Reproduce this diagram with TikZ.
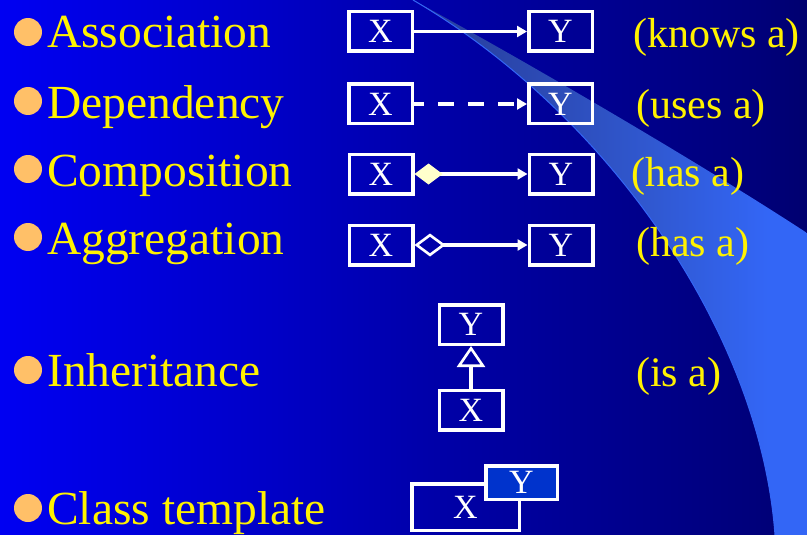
\documentclass[tikz,border=0pt]{standalone}
\usepackage{fontspec}
\setmainfont{Liberation Serif}
\usetikzlibrary{arrows.meta}

% palette
\definecolor{bulletc}{HTML}{FFC068}
\definecolor{diamondc}{HTML}{FFFFCC}
\definecolor{tplc}{HTML}{0033CC}
\definecolor{bg0}{HTML}{0000FF}
\definecolor{bg1}{HTML}{0000F2}
\definecolor{bg2}{HTML}{0000C6}
\definecolor{bg3}{HTML}{0000A8}
\definecolor{bg4}{HTML}{00007A}
\definecolor{bg5}{HTML}{000046}
\definecolor{bg6}{HTML}{000022}
\definecolor{sw0}{HTML}{1E2E88}
\definecolor{sw1}{HTML}{2A44A8}
\definecolor{sw2}{HTML}{3058D0}
\definecolor{sw3}{HTML}{3366F6}

% slide background: bright blue fading to near black
\pgfdeclarehorizontalshading{bgshade}{100bp}{%
  color(0bp)=(bg0); color(25bp)=(bg1); color(42bp)=(bg2);
  color(52bp)=(bg3); color(72bp)=(bg4); color(87bp)=(bg5); color(100bp)=(bg6)}
% decorative sweep on the right
\pgfdeclarehorizontalshading{sweepshade}{100bp}{%
  color(0bp)=(sw0); color(35bp)=(sw1); color(55bp)=(sw2);
  color(70bp)=(sw3); color(100bp)=(sw3)}

\tikzset{
  cls/.style={draw=white, line width=3.5pt, minimum width=63.5pt, minimum height=39.5pt,
    inner sep=0pt, text=white, font=\fontsize{34}{36}\selectfont},
  term/.style={anchor=base west, text=yellow, inner sep=0pt,
    font=\fontsize{47.5}{50}\selectfont},
  note/.style={anchor=base west, text=yellow, inner sep=0pt,
    font=\fontsize{42}{44}\selectfont},
  bulletdot/.style={circle, fill=bulletc, minimum size=28pt, inner sep=0pt},
  relline/.style={draw=white, line width=3.5pt},
  headtip/.style={-{Triangle[length=10pt,width=11pt]}},
}

\begin{document}
\begin{tikzpicture}[x=1pt, y=-1pt]
\useasboundingbox (0,0) rectangle (807,535);
\shade[shading=bgshade] (0,0) rectangle (807,535);

% sweep
\shade[shading=sweepshade]
  (413,0) .. controls (605,112) and (760,330) .. (775,535)
  -- (807,535) -- (807,233)
  .. controls (700,163) and (520,58) .. (413,0) -- cycle;
\draw[sw3, line width=1pt]
  (413,0) .. controls (605,112) and (760,330) .. (775,535);

% bullets
\foreach \yy [count=\i] in {32,101,169,237,370,508}
  \node[bulletdot] (b\i) at (28,\yy) {};

% relationship names
\node[term] (t1) at (47,48)  {Association};
\node[term] (t2) at (47,118) {Dependency};
\node[term] (t3) at (47,186) {Composition};
\node[term] (t4) at (47,254) {Aggregation};
\node[term] (t5) at (47,386) {Inheritance};
\node[term] (t6) at (47,524) {Class template};

% meanings
\node[note] (n1) at (633,48)  {(knows a)};
\node[note] (n2) at (636,118) {(uses a)};
\node[note] (n3) at (631,186) {(has a)};
\node[note] (n4) at (636,256) {(has a)};
\node[note] (n5) at (636,386) {(is a)};

% association
\node[cls] (x1) at (380.5,31.5) {X};
\node[cls] (y1) at (560.5,31.5) {Y};
\draw[relline, headtip] (x1.east) -- (y1.west);

% dependency
\node[cls] (x2) at (380.5,104) {X};
\node[cls] (y2) at (560.5,104) {Y};
\draw[relline, headtip, dash pattern=on 16pt off 14pt, dash phase=6pt] (x2.east) -- (y2.west);

% composition
\node[cls] (x3) at (381,174) {X};
\node[cls] (y3) at (561,174) {Y};
\draw[relline, {Diamond[length=28pt,width=21pt,color=diamondc]}-{Triangle[length=10pt,width=11pt]}]
  (x3.east) -- (y3.west);

% aggregation
\node[cls] (x4) at (381,245) {X};
\node[cls] (y4) at (561,245) {Y};
\draw[relline, {Diamond[open,length=31pt,width=23pt,line width=2.6pt]}-{Triangle[length=10pt,width=11pt]}]
  (x4.east) -- (y4.west);

% inheritance
\node[cls] (y5) at (471,324.5) {Y};
\node[cls] (x5) at (471,410) {X};
\draw[relline, -{Triangle[open,length=21pt,width=28pt,line width=2.6pt]}]
  (x5.north) -- (y5.south);

% class template
\node[cls, minimum width=107.5pt, minimum height=46.5pt] (tx) at (465.5,507) {X};
\node[cls, fill=tplc, minimum width=71.5pt, minimum height=33.5pt] (ty) at (521.5,482.5) {Y};
\end{tikzpicture}
\end{document}
